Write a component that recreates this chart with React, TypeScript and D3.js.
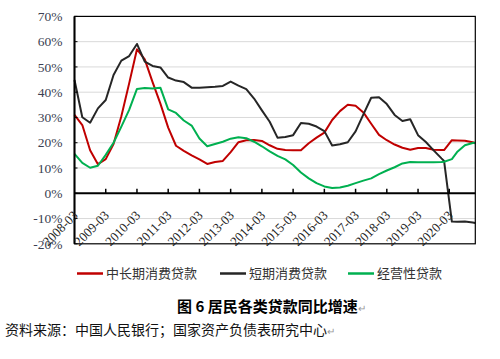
import React from "react";
import * as d3 from "d3";

const dates = [
  "2008-03","2008-06","2008-09","2008-12","2009-03","2009-06","2009-09","2009-12",
  "2010-03","2010-06","2010-09","2010-12","2011-03","2011-06","2011-09","2011-12",
  "2012-03","2012-06","2012-09","2012-12","2013-03","2013-06","2013-09","2013-12",
  "2014-03","2014-06","2014-09","2014-12","2015-03","2015-06","2015-09","2015-12",
  "2016-03","2016-06","2016-09","2016-12","2017-03","2017-06","2017-09","2017-12",
  "2018-03","2018-06","2018-09","2018-12","2019-03","2019-06","2019-09","2019-12",
  "2020-01","2020-04","2020-06","2020-09","2020-12","2021-01",
];

const midLongConsumer = [
  31, 27, 17, 11.5, 13.5, 19.5, 30.5, 43.5,
  57, 53, 44, 35.5, 26, 18.8, 16.8, 15,
  13.4, 11.6, 12.4, 12.8, 16.3, 20.2, 21.0, 21.1,
  20.7, 19.0, 17.6, 17.1, 17.0, 17.0, 19.8, 22.0,
  24.0, 29.0, 32.5, 35.0, 34.6, 32.0, 27.5, 23.1,
  21.0, 19.3, 18.0, 17.2, 17.9, 17.9, 17.2, 17.1,
  17.1, 21.0, 20.9, 20.8, 20.2, 19.8,
];

const shortConsumer = [
  44.8, 30.1, 27.9, 33.6, 36.9, 46.8, 52.5, 54.3,
  59.1, 52.1, 50.4, 49.8, 45.8, 44.6, 44.0, 41.8,
  41.8, 42.0, 42.2, 42.5, 44.2, 42.6, 41.2, 37.5,
  32.8, 28.3, 22.0, 22.3, 23.0, 27.8, 27.5, 26.4,
  24.6, 18.9, 19.4, 20.2, 24.5, 31.2, 37.8, 38.0,
  35.3, 31.0, 28.6, 29.3, 23.0, 20.3, 17.0, 13.8,
  12.8, -11.2, -11.3, -11.2, -11.6, -11.8,
];

const operating = [
  15.6, 12.0, 10.1, 10.9, 15.2, 20.0, 26.4, 33.0,
  41.3, 41.7, 41.5, 41.8, 33.2, 31.8, 28.8, 26.8,
  21.7, 18.6, 19.5, 20.4, 21.6, 22.2, 21.8, 20.4,
  18.6, 16.6, 14.8, 13.4, 11.2, 8.2, 5.9, 4.0,
  2.7, 2.1, 2.3, 3.0, 4.0, 5.0, 5.9, 7.6,
  9.0, 10.3, 11.8, 12.4, 12.3, 12.3, 12.3, 12.4,
  12.5, 13.5, 16.3, 19.0, 19.9, 20.0,
];

const xTickLabels = [
  "2008-03","2009-03","2010-03","2011-03","2012-03","2013-03","2014-03",
  "2015-03","2016-03","2017-03","2018-03","2019-03","2020-03",
];
const yTicks = [-20, -10, 0, 10, 20, 30, 40, 50, 60, 70];

const seriesNames = ["中长期消费贷款", "短期消费贷款", "经营性贷款"];
const seriesColors = ["#c00000", "#262626", "#00b050"];
const seriesValues = [midLongConsumer, shortConsumer, operating];

const titleText = "图 6 居民各类贷款同比增速";
const sourceText = "资料来源：中国人民银行；国家资产负债表研究中心";

const monthIndex = (s: string) => {
  const [y, m] = s.split("-").map(Number);
  return (y - 2008) * 12 + (m - 3);
};

export default function App() {
  const W = 500, H = 359;
  const left = 74.5, right = 475.3, top = 16.4, bottom = 243.8;
  const x = d3.scaleLinear().domain([0, monthIndex("2021-01")]).range([left, right]);
  const y = d3.scaleLinear().domain([-20, 70]).range([bottom, top]);
  const line = d3
    .line<[string, number]>()
    .x((d) => x(monthIndex(d[0])))
    .y((d) => y(d[1]));

  const serif = "'Liberation Serif', 'Times New Roman', serif";
  const cjk = "'Noto Sans CJK SC', sans-serif";

  const legendX = [77, 220, 348];
  const legendY = 273.5;

  return (
    <svg
      width={W}
      height={H}
      style={{ position: "absolute", left: 0, top: 0, background: "#fff" }}
    >
      <rect x={0} y={0} width={W} height={H} fill="#fff" />
      {/* gridlines */}
      {yTicks
        .filter((t) => t !== 0 && t !== -20 && t !== 70)
        .map((t) => (
          <line key={"g" + t} x1={left} x2={right} y1={y(t)} y2={y(t)} stroke="#d9d9d9" strokeWidth={1} />
        ))}
      {/* series lines */}
      {seriesValues.map((vals, i) => (
        <path
          key={"s" + i}
          d={line(dates.map((d, j) => [d, vals[j]] as [string, number])) || ""}
          fill="none"
          stroke={seriesColors[i]}
          strokeWidth={2}
          strokeLinejoin="round"
        />
      ))}
      {/* frame */}
      <rect x={left} y={top} width={right - left} height={bottom - top} fill="none" stroke="#000" strokeWidth={1.2} />
      <line x1={left} x2={left} y1={top} y2={bottom} stroke="#000" strokeWidth={2} />
      <line x1={left} x2={right} y1={y(0)} y2={y(0)} stroke="#000" strokeWidth={2} />
      {/* y ticks inward */}
      {yTicks.map((t) => (
        <line key={"yt" + t} x1={left} x2={left + 3} y1={y(t)} y2={y(t)} stroke="#000" strokeWidth={1} />
      ))}
      {/* x ticks */}
      {xTickLabels.slice(1).map((d) => (
        <line key={"xt" + d} x1={x(monthIndex(d))} x2={x(monthIndex(d))} y1={y(0)} y2={y(0) - 4.5} stroke="#000" strokeWidth={1.5} />
      ))}
      {/* y labels */}
      {yTicks.map((t) => (
        <text
          key={"yl" + t}
          x={62.5}
          y={y(t)}
          dy="0.35em"
          textAnchor="end"
          fontFamily={serif}
          fontSize={13.5}
          fill="#3b3f52"
        >
          {t + "%"}
        </text>
      ))}
      {/* x labels */}
      {xTickLabels.map((d) => (
        <text
          key={"xl" + d}
          transform={`translate(${x(monthIndex(d)) + 1},${213}) rotate(-45)`}
          dy="0.35em"
          textAnchor="end"
          fontFamily={serif}
          fontSize={13}
          fill="#222"
        >
          {d}
        </text>
      ))}
      {/* legend */}
      {seriesNames.map((n, i) => (
        <g key={"lg" + i}>
          <line x1={legendX[i]} x2={legendX[i] + 26} y1={legendY} y2={legendY} stroke={seriesColors[i]} strokeWidth={2.5} />
          <text x={legendX[i] + 29} y={legendY} dy="0.36em" fontFamily={cjk} fontSize={13} fill="#333">
            {n}
          </text>
        </g>
      ))}
      {/* title */}
      <text x={177} y={307} dy="0.36em" fontFamily={cjk} fontWeight="bold" fontSize={15} fill="#000">
        {titleText}
        <tspan fill="#999" fontWeight="normal" fontSize={10}>↵</tspan>
      </text>
      {/* source */}
      <text x={5} y={330} dy="0.36em" fontFamily={cjk} fontSize={14} fill="#111">
        {sourceText}
        <tspan fill="#999" fontSize={10}>↵</tspan>
      </text>
    </svg>
  );
}
